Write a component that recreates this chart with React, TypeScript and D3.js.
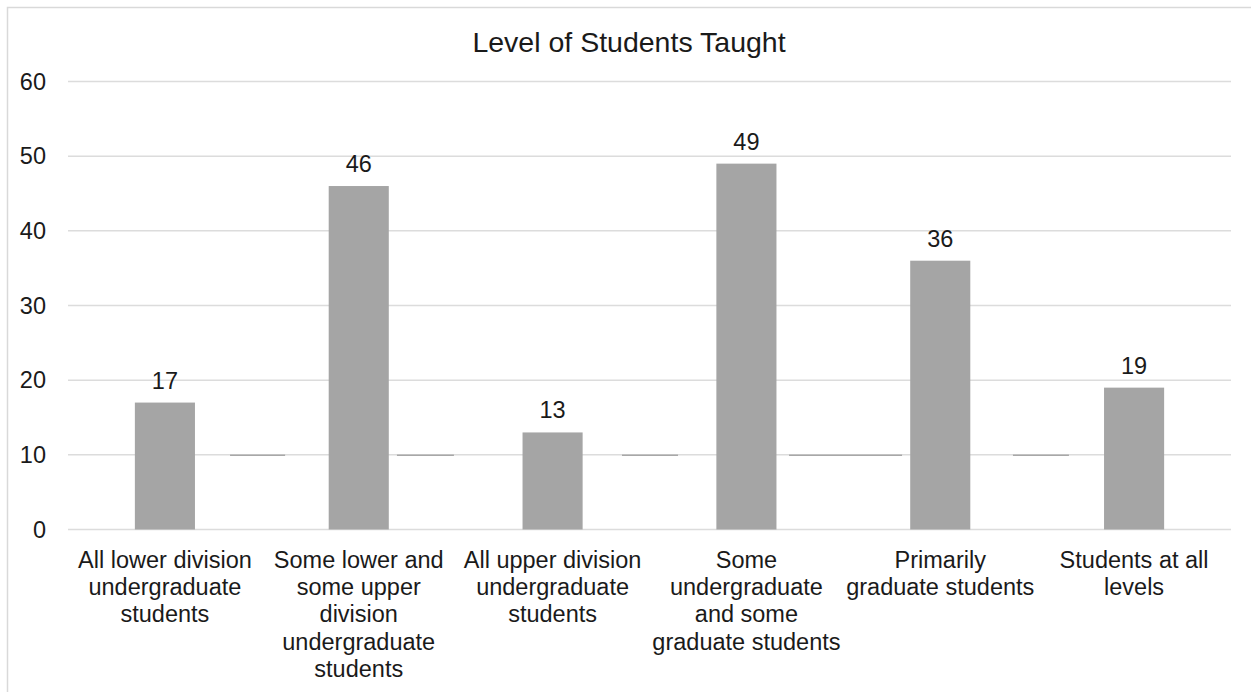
import React from "react";
import * as d3 from "d3";

const categories: string[][] = [
  ["All lower division", "undergraduate", "students"],
  ["Some lower and", "some upper", "division", "undergraduate", "students"],
  ["All upper division", "undergraduate", "students"],
  ["Some", "undergraduate", "and some", "graduate students"],
  ["Primarily", "graduate students"],
  ["Students at all", "levels"],
];
const values: number[] = [17, 46, 13, 49, 36, 19];
const yTicks: number[] = [0, 10, 20, 30, 40, 50, 60];
// stray short line pieces at value 10, positions in category units
const segValue = 10;
const segStarts: number[] = [0.836, 1.697, 2.858, 3.72, 4.875];
const segEnds: number[] = [1.12, 1.991, 3.147, 4.303, 5.164];
const title = "Level of Students Taught";

const W = 1251;
const H = 692;
const FONT = "'Liberation Sans', Arial, sans-serif";

export default function App() {
  const left = 68;
  const right = 1231;
  const y = d3.scaleLinear().domain([0, 60]).range([529.5, 81.5]);
  const x = d3
    .scaleBand<number>()
    .domain(d3.range(values.length))
    .range([left, right])
    .padding(0);
  const xu = d3.scaleLinear().domain([0, values.length]).range([left, right]);
  const bw = x.bandwidth() * 0.31;

  return (
    <svg
      width={W}
      height={H}
      style={{ position: "absolute", left: 0, top: 0, background: "#fff" }}
      fontFamily={FONT}
    >
      <rect x={0} y={0} width={W} height={H} fill="#fff" />
      <path d={`M7.5,${H} V7.5 H${W}`} fill="none" stroke="#d9d9d9" strokeWidth={1.5} />
      <text x={629} y={52} textAnchor="middle" fontSize={28.5} fill="#1a1a1a">
        {title}
      </text>
      {yTicks.map((t) => (
        <g key={t}>
          <line x1={left} x2={right} y1={y(t)} y2={y(t)} stroke="#dcdcdc" strokeWidth={1.5} />
          <text
            x={46}
            y={y(t)}
            dy="0.35em"
            textAnchor="end"
            fontSize={23.5}
            fill="#1a1a1a"
          >
            {t}
          </text>
        </g>
      ))}
      {segStarts.map((s, i) => (
        <line
          key={i}
          x1={xu(s)}
          x2={xu(segEnds[i])}
          y1={y(segValue) + 0.5}
          y2={y(segValue) + 0.5}
          stroke="#a8a8a8"
          strokeWidth={1.5}
        />
      ))}
      {values.map((v, i) => {
        const cx = (x(i) as number) + x.bandwidth() / 2;
        return (
          <g key={i}>
            <rect x={cx - bw / 2} y={y(v)} width={bw} height={y(0) - y(v)} fill="#a5a5a5" />
            <text x={cx} y={y(v) - 14} textAnchor="middle" fontSize={23.5} fill="#1a1a1a">
              {v}
            </text>
            <text textAnchor="middle" fontSize={23.5} fill="#1a1a1a">
              {categories[i].map((line, j) => (
                <tspan key={j} x={cx} y={567.7 + j * 27.3}>
                  {line}
                </tspan>
              ))}
            </text>
          </g>
        );
      })}
    </svg>
  );
}
